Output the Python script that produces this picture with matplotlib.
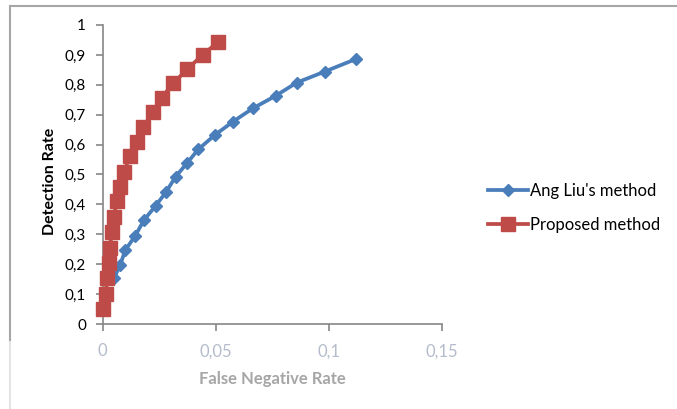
import matplotlib
matplotlib.use("Agg")
import matplotlib.pyplot as plt
from matplotlib.lines import Line2D
from matplotlib.ticker import FuncFormatter

plt.rcParams["font.family"] = ["Lato", "DejaVu Sans"]

# data
ang_liu_fnr = [0.005, 0.0077, 0.010, 0.0143, 0.0183, 0.0235, 0.0279, 0.0323, 0.0372,
               0.0423, 0.0496, 0.0577, 0.0664, 0.0765, 0.0858, 0.0982, 0.112]
ang_liu_dr = [0.154, 0.197, 0.247, 0.294, 0.348, 0.396, 0.44, 0.493, 0.537,
              0.584, 0.632, 0.677, 0.721, 0.763, 0.807, 0.844, 0.886]

proposed_fnr = [0.0003, 0.0013, 0.002, 0.0028, 0.0032, 0.004, 0.005, 0.0062, 0.0077, 0.0094,
                0.0121, 0.015, 0.018, 0.0224, 0.0261, 0.0312, 0.0374, 0.0442, 0.0512]
proposed_dr = [0.049, 0.099, 0.153, 0.203, 0.255, 0.308, 0.359, 0.411, 0.459, 0.509,
               0.562, 0.61, 0.66, 0.71, 0.757, 0.805, 0.852, 0.9, 0.944]

x_ticks = [0, 0.05, 0.1, 0.15]
y_ticks = [0, 0.1, 0.2, 0.3, 0.4, 0.5, 0.6, 0.7, 0.8, 0.9, 1]

blue = "#4a7ebb"
red = "#be4b48"
axis_gray = "#868686"


def comma_fmt(v, pos):
    s = ("%.2f" % v).rstrip("0").rstrip(".")
    return s.replace(".", ",")


fig = plt.figure(figsize=(6.77, 4.09), dpi=100)
ax = fig.add_axes([0.1517, 0.2078, 0.5007, 0.7311])

ax.plot(ang_liu_fnr, ang_liu_dr, color=blue, lw=2.7, marker="D", ms=6.5,
        label="Ang Liu's method", zorder=2, clip_on=False)
ax.plot(proposed_fnr, proposed_dr, color=red, lw=2.7, marker="s", ms=10,
        label="Proposed method", zorder=3, clip_on=False)

ax.set_xlim(0, 0.15)
ax.set_ylim(0, 1)
ax.set_xticks(x_ticks)
ax.set_yticks(y_ticks)
ax.xaxis.set_major_formatter(FuncFormatter(comma_fmt))
ax.yaxis.set_major_formatter(FuncFormatter(comma_fmt))

for side in ["top", "right"]:
    ax.spines[side].set_visible(False)
for side in ["left", "bottom"]:
    ax.spines[side].set_color(axis_gray)
    ax.spines[side].set_linewidth(1.2)
    ax.spines[side].set_zorder(1)

ax.tick_params(axis="y", colors=axis_gray, labelcolor="black", labelsize=11,
               length=5, width=1.2, pad=7)
ax.tick_params(axis="x", colors=axis_gray, labelcolor="#b4bccb", labelsize=12,
               length=5, width=1.2, pad=9)

ax.set_xlabel("False Negative Rate", fontsize=12, fontweight="bold",
              color="#a6a6a6", labelpad=8)
ax.set_ylabel("Detection Rate", fontsize=11.5, fontweight="bold", color="black")
ax.yaxis.set_label_coords(-0.135, 0.478)

ax.legend(loc="center left", bbox_to_anchor=(0.7208, 0.4914),
          bbox_transform=fig.transFigure, frameon=False, borderpad=0,
          borderaxespad=0, fontsize=12, handlelength=2.4, handletextpad=0.15,
          labelspacing=1.05)

# chart border (top and left edges as in the reference)
fig.add_artist(Line2D([0.015, 1.0], [0.986, 0.986], color="#a6a6a6", lw=1.5))
fig.add_artist(Line2D([0.015, 0.015], [0.163, 0.986], color="#a6a6a6", lw=1.5))
fig.add_artist(Line2D([0.015, 0.015], [0.0, 0.163], color="#e4e4e4", lw=1.5))

fig.savefig("out.png", dpi=100)
